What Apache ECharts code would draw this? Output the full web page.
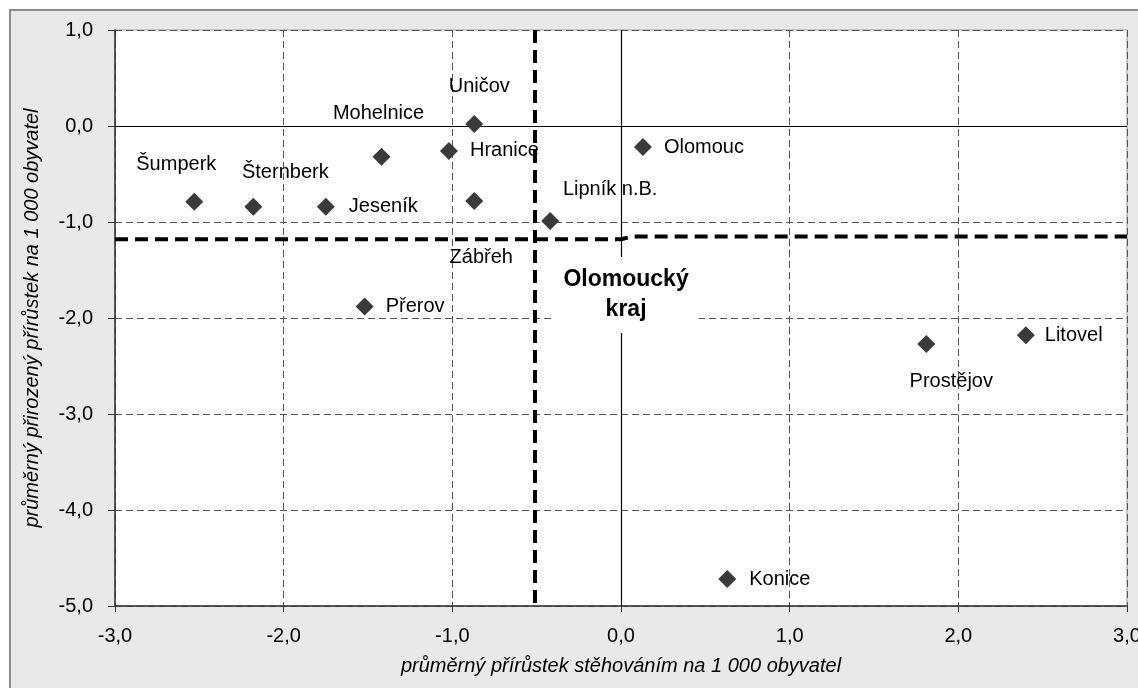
<!DOCTYPE html>
<html>
<head>
<meta charset="utf-8">
<script src="https://cdn.jsdelivr.net/npm/echarts@6/dist/echarts.min.js"></script>
<style>
html,body{margin:0;padding:0;background:#fff;overflow:hidden;}
#chart{width:1138px;height:688px;}
</style>
</head>
<body>
<div id="chart"></div>
<script>
// ---- data ----
const towns = ['Šumperk','Šternberk','Jeseník','Mohelnice','Hranice','Uničov','Zábřeh','Lipník n.B.','Olomouc','Přerov','Prostějov','Litovel','Konice'];
const migration = [-2.53,-2.18,-1.75,-1.42,-1.02,-0.87,-0.87,-0.42,0.13,-1.52,1.81,2.40,0.63];
const natural   = [-0.79,-0.84,-0.84,-0.32,-0.26,0.02,-0.78,-0.99,-0.22,-1.88,-2.27,-2.18,-4.72];
const regionName = 'Olomoucký kraj';
const regionX = [0.03];
const regionY = [-1.76];
const regionMigration = -0.51;            // vertical dashed threshold
const regionNaturalX = [-3, 0, 0.07, 3];  // horizontal dashed threshold (x)
const regionNaturalY = [-1.18, -1.18, -1.15, -1.15];
const xAxisName = 'průměrný přírůstek stěhováním na 1 000 obyvatel';
const yAxisName = 'průměrný přirozený přírůstek na 1 000 obyvatel';

// ---- label placement (style) ----
const labelPlace = {
  'Šumperk':    {position:'top', offset:[-18,-13]},
  'Šternberk':  {position:'top', offset:[32,-10]},
  'Jeseník':    {position:'right', offset:[9,0]},
  'Mohelnice':  {position:'top', offset:[-3,-19]},
  'Hranice':    {position:'right', offset:[7,0]},
  'Uničov':     {position:'top', offset:[5,-14]},
  'Zábřeh':     {position:'bottom', offset:[7,33]},
  'Lipník n.B.':{position:'top', offset:[60,-8]},
  'Olomouc':    {position:'right', offset:[7,0]},
  'Přerov':     {position:'right', offset:[7,0]},
  'Prostějov':  {position:'bottom', offset:[25,14]},
  'Litovel':    {position:'right', offset:[5,0]},
  'Konice':     {position:'right', offset:[8,0]}
};

const FONT = "'Liberation Sans', Arial, sans-serif";
const fmt = v => v.toFixed(1).replace('.', ',');

const scatterData = towns.map((t, i) => ({
  name: t,
  value: [migration[i], natural[i]],
  label: Object.assign({show:true, formatter: t, distance:5}, labelPlace[t])
}));

const chart = echarts.init(document.getElementById('chart'), null, {renderer:'canvas', width:1138, height:688});
chart.setOption({
  animation: false,
  backgroundColor: '#ffffff',
  graphic: [{
    type: 'rect', z: -100, silent: true,
    shape: {x: 10, y: 10, width: 1160, height: 720},
    style: {fill: '#e9e9e9', stroke: '#8c8c8c', lineWidth: 2}
  }],
  grid: {
    left: 115, right: 11, top: 30, bottom: 82,
    outerBoundsMode: 'none', containLabel: false,
    show: true, backgroundColor: '#ffffff', borderColor: '#9a9a9a', borderWidth: 1
  },
  xAxis: {
    type: 'value', min: -3, max: 3, interval: 1,
    name: xAxisName, nameLocation: 'middle', nameGap: 50,
    nameTextStyle: {fontFamily: FONT, fontSize: 20, fontStyle: 'italic', color: '#000'},
    axisLine: {show: true, onZero: false, lineStyle: {color: '#333', width: 1.5}},
    axisTick: {show: true, length: 6, lineStyle: {color: '#333'}},
    axisLabel: {formatter: fmt, fontFamily: FONT, fontSize: 20, color: '#000', margin: 20},
    splitLine: {show: true, lineStyle: {color: '#555', type: [7,4], width: 1}}
  },
  yAxis: {
    type: 'value', min: -5, max: 1, interval: 1,
    name: yAxisName, nameLocation: 'middle', nameGap: 73,
    nameTextStyle: {fontFamily: FONT, fontSize: 20, fontStyle: 'italic', color: '#000'},
    axisLine: {show: true, onZero: false, lineStyle: {color: '#333', width: 1.5}},
    axisTick: {show: true, length: 7, lineStyle: {color: '#333'}},
    axisLabel: {formatter: fmt, fontFamily: FONT, fontSize: 20, color: '#000', margin: 22},
    splitLine: {show: true, lineStyle: {color: '#555', type: [7,4], width: 1}}
  },
  series: [
    {
      type: 'scatter', z: 1, data: [], silent: true,
      markLine: {
        z: 1, silent: true, symbol: ['none','none'],
        label: {show: false},
        lineStyle: {color: '#000', type: 'solid', width: 1.2, opacity: 1},
        data: [{xAxis: 0}, {yAxis: 0}]
      }
    },
    {
      type: 'scatter', z: 3,
      symbol: 'diamond', symbolSize: 18,
      itemStyle: {color: '#3a3a3a', opacity: 1},
      label: {fontFamily: FONT, fontSize: 20, color: '#000'},
      data: scatterData
    },
    {
      type: 'line', z: 6, silent: true, symbol: 'none',
      lineStyle: {color: '#000', width: 4, type: [13,7]},
      data: [[regionMigration, 1], [regionMigration, -5]]
    },
    {
      type: 'line', z: 6, silent: true, symbol: 'none',
      lineStyle: {color: '#000', width: 4, type: [13,7]},
      data: regionNaturalX.map((x, i) => [x, regionNaturalY[i]])
    },
    {
      type: 'scatter', z: 10, silent: true,
      symbolSize: 0,
      itemStyle: {opacity: 1},
      data: [{value: [regionX[0], regionY[0]]}],
      label: {
        show: true, position: 'inside',
        formatter: regionName.replace(' ', '\n'),
        fontFamily: FONT, fontSize: 23, fontWeight: 'bold', color: '#000',
        lineHeight: 30, align: 'center',
        backgroundColor: '#ffffff', padding: [8, 10]
      }
    }
  ]
});
</script>
</body>
</html>
